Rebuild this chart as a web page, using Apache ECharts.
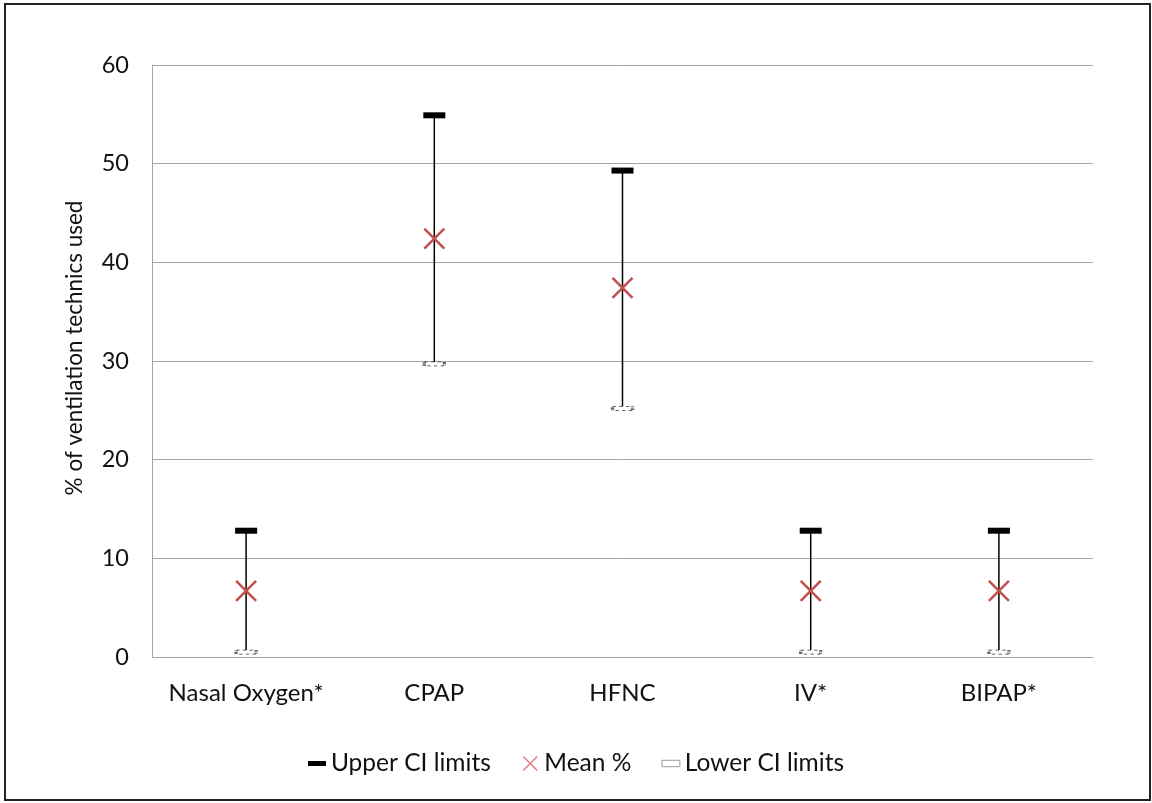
<!DOCTYPE html>
<html><head><meta charset="utf-8">
<script src="https://cdn.jsdelivr.net/npm/echarts@6/dist/echarts.min.js"></script>
<style>html,body{margin:0;padding:0;background:#fff}#c{width:1152px;height:803px}</style>
</head><body><div id="c"></div>
<script>
const categories = ['Nasal Oxygen*', 'CPAP', 'HFNC', 'IV*', 'BIPAP*'];
const upperCI = [12.8, 54.9, 49.3, 12.8, 12.8];
const meanPct = [6.7, 42.4, 37.4, 6.7, 6.7];
const lowerCI = [0.5, 29.7, 25.2, 0.5, 0.5];
const yTicks = [0, 10, 20, 30, 40, 50, 60];

const font = 'Lato, "Open Sans", sans-serif';
const chart = echarts.init(document.getElementById('c'));
const xPath = 'path://M0,0 L10,10 M10,0 L0,10';
chart.setOption({
  animation: false,
  backgroundColor: '#fff',
  graphic: [{
    type: 'rect', shape: {x: 5, y: 4, width: 1145, height: 796},
    style: {fill: 'none', stroke: '#222', lineWidth: 2}, silent: true
  }],
  grid: {left: 152, top: 65, right: 59, bottom: 146},
  legend: {
    bottom: 22, left: 'center', itemGap: 30, itemWidth: 18, itemHeight: 14,
    textStyle: {fontFamily: font, fontSize: 24.5, color: '#111'},
    data: [
      {name: 'Upper CI limits', icon: 'path://M0,0 L18,0 L18,5 L0,5 Z', itemStyle: {color: '#000'}},
      {name: 'Mean %', icon: xPath, itemStyle: {color: 'none', borderColor: '#E07B7B', borderWidth: 1.5}},
      {name: 'Lower CI limits', icon: 'path://M0,0 L14,0 L14,5 L0,5 Z', itemStyle: {color: '#fff', borderColor: '#999', borderWidth: 1}}
    ]
  },
  xAxis: {
    type: 'category', data: categories, boundaryGap: true,
    axisLine: {lineStyle: {color: '#a6a6a6', width: 1}},
    axisTick: {show: false},
    axisLabel: {fontFamily: font, fontSize: 24, color: '#111', margin: 24, interval: 0}
  },
  yAxis: {
    type: 'value', min: yTicks[0], max: yTicks[yTicks.length - 1], interval: 10,
    name: '% of ventilation technics used', nameLocation: 'middle', nameGap: 66,
    nameTextStyle: {fontFamily: font, fontSize: 22.5, color: '#111', padding: [0, 0, 0, 26]},
    axisLine: {show: true, lineStyle: {color: '#a6a6a6', width: 1}},
    axisTick: {show: false},
    splitLine: {lineStyle: {color: '#a6a6a6', width: 1}},
    axisLabel: {fontFamily: font, fontSize: 23.5, color: '#111', margin: 23}
  },
  series: [
    {
      type: 'custom', name: 'range', silent: true, z: 2,
      data: categories.map((c, i) => [i, lowerCI[i], upperCI[i]]),
      renderItem: function (params, api) {
        const lo = api.coord([api.value(0), api.value(1)]);
        const hi = api.coord([api.value(0), api.value(2)]);
        return {type: 'line', shape: {x1: lo[0], y1: lo[1], x2: hi[0], y2: hi[1]},
          style: {stroke: '#000', lineWidth: 1.5}};
      }
    },
    {
      type: 'scatter', name: 'Upper CI limits', z: 5,
      data: categories.map((c, i) => [i, upperCI[i]]),
      symbol: 'rect', symbolSize: [22, 6],
      itemStyle: {color: '#000', opacity: 1}
    },
    {
      type: 'scatter', name: 'Mean %', z: 5,
      data: categories.map((c, i) => [i, meanPct[i]]),
      symbol: xPath, symbolSize: 20,
      itemStyle: {color: 'none', borderColor: '#C0504D', borderWidth: 2.5, opacity: 1}
    },
    {
      type: 'scatter', name: 'Lower CI limits', z: 5,
      data: categories.map((c, i) => [i, lowerCI[i]]),
      symbol: 'rect', symbolSize: [20, 4],
      itemStyle: {color: '#fff', borderColor: '#333', borderWidth: 1.5, borderType: 'dotted', opacity: 1}
    }
  ]
});
</script></body></html>
